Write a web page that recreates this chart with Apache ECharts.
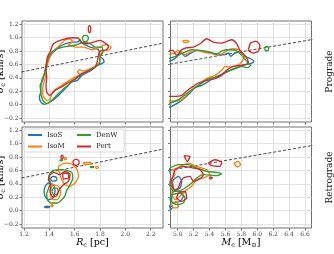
<!DOCTYPE html>
<html><head><meta charset="utf-8">
<script src="https://cdn.jsdelivr.net/npm/echarts@6/dist/echarts.min.js"></script>
<style>html,body{margin:0;padding:0;background:#fff}#c{width:334px;height:254px}</style>
</head><body><div id="c"></div>
<script>
const models = ['IsoS', 'IsoM', 'DenW', 'Pert'];
const colors = ['#1f77b4', '#ff7f0e', '#2ca02c', '#d62728'];
const rcTicks = [1.2, 1.4, 1.6, 1.8, 2.0, 2.2];
const mcTicks = [5.0, 5.2, 5.4, 5.6, 5.8, 6.0, 6.2, 6.4, 6.6];
const sigmaTicks = [-0.2, 0.0, 0.2, 0.4, 0.6, 0.8, 1.0, 1.2];
const rcLine = [[1.18, 0.487], [2.3, 0.92]];
const mcLine = [[4.9, 0.605], [6.7, 0.975]];

// Prograde, R_c panel
const proRcIsoS = [[[1.524,0.91],[1.577,0.935],[1.622,0.935],[1.643,0.969],[1.656,0.92],[1.722,0.86],[1.788,0.82],[1.80,0.711],[1.822,0.686],[1.832,0.636],[1.80,0.60],[1.769,0.586],[1.722,0.502],[1.656,0.437],[1.622,0.363],[1.577,0.338],[1.524,0.238],[1.458,0.114],[1.406,0.039],[1.358,0.004],[1.332,0.039],[1.321,0.114],[1.332,0.189],[1.327,0.288],[1.348,0.363],[1.366,0.512],[1.393,0.686],[1.432,0.786],[1.485,0.87]]];
const proRcIsoM = [[[1.506,0.934],[1.524,0.969],[1.564,0.98],[1.585,0.94],[1.55,0.90],[1.603,0.86],[1.669,0.86],[1.735,0.82],[1.80,0.86],[1.848,0.90],[1.888,0.86],[1.875,0.82],[1.827,0.80],[1.80,0.736],[1.796,0.636],[1.774,0.586],[1.722,0.537],[1.669,0.502],[1.638,0.522],[1.622,0.487],[1.643,0.452],[1.603,0.412],[1.55,0.353],[1.498,0.288],[1.445,0.223],[1.419,0.164],[1.406,0.074],[1.379,0.064],[1.348,0.139],[1.348,0.263],[1.366,0.387],[1.379,0.562],[1.40,0.686],[1.432,0.80],[1.471,0.87]]];
const proRcDenW = [[[1.458,0.835],[1.537,0.87],[1.616,0.895],[1.682,0.935],[1.722,0.91],[1.761,0.86],[1.814,0.86],[1.822,0.786],[1.80,0.711],[1.796,0.611],[1.761,0.562],[1.708,0.512],[1.643,0.437],[1.577,0.338],[1.511,0.238],[1.458,0.139],[1.419,0.064],[1.379,0.014],[1.348,0.064],[1.332,0.189],[1.34,0.363],[1.366,0.487],[1.374,0.611],[1.393,0.711],[1.419,0.786]],
  [[1.66,1.0],[1.672,1.03],[1.695,1.035],[1.708,1.0],[1.698,0.95],[1.672,0.94]]];
const proRcPert = [[[1.406,0.786],[1.432,0.91],[1.498,0.969],[1.577,0.999],[1.63,0.994],[1.648,0.935],[1.695,0.91],[1.748,0.935],[1.80,0.96],[1.84,0.92],[1.867,0.86],[1.848,0.82],[1.80,0.80],[1.788,0.736],[1.774,0.61],[1.761,0.56],[1.722,0.51],[1.656,0.462],[1.603,0.387],[1.537,0.313],[1.485,0.253],[1.445,0.213],[1.419,0.164],[1.40,0.139],[1.379,0.188],[1.374,0.288],[1.379,0.412],[1.374,0.512],[1.379,0.611],[1.384,0.711]],
  [[1.717,1.185],[1.726,1.16],[1.726,1.10],[1.717,1.075],[1.708,1.10],[1.708,1.16]]];

// Prograde, M_c panel
const proMcIsoS = [[[4.84,0.636],[4.924,0.661],[4.987,0.711],[5.037,0.786],[5.092,0.721],[5.154,0.761],[5.238,0.81],[5.364,0.786],[5.469,0.761],[5.573,0.746],[5.636,0.771],[5.666,0.721],[5.72,0.771],[5.783,0.786],[5.845,0.721],[5.917,0.686],[5.958,0.646],[5.908,0.611],[5.824,0.587],[5.741,0.552],[5.657,0.512],[5.573,0.462],[5.489,0.422],[5.406,0.363],[5.301,0.288],[5.217,0.253],[5.154,0.174],[5.092,0.104],[5.008,0.029],[4.924,-0.026],[4.84,-0.06]]];
const proMcIsoM = [[[4.84,0.751],[4.945,0.761],[5.008,0.81],[5.092,0.746],[5.154,0.786],[5.238,0.81],[5.322,0.786],[5.427,0.761],[5.51,0.736],[5.573,0.771],[5.636,0.82],[5.707,0.835],[5.783,0.81],[5.833,0.736],[5.816,0.661],[5.783,0.611],[5.699,0.572],[5.636,0.562],[5.594,0.572],[5.552,0.512],[5.468,0.437],[5.385,0.402],[5.301,0.338],[5.217,0.253],[5.154,0.203],[5.092,0.114],[5.029,0.064],[4.966,0.054],[4.84,0.054]],
  [[5.06,0.945],[5.08,0.96],[5.12,0.96],[5.14,0.945],[5.12,0.93],[5.08,0.93]]];
const proMcDenW = [[[4.84,0.671],[4.924,0.701],[5.008,0.736],[5.092,0.786],[5.175,0.82],[5.28,0.81],[5.406,0.786],[5.489,0.751],[5.552,0.80],[5.636,0.82],[5.732,0.81],[5.804,0.736],[5.858,0.661],[5.917,0.587],[5.875,0.552],[5.804,0.572],[5.72,0.537],[5.636,0.502],[5.573,0.472],[5.531,0.422],[5.448,0.402],[5.364,0.373],[5.28,0.303],[5.196,0.238],[5.113,0.164],[5.029,0.089],[4.945,0.039],[4.84,0.004]],
  [[6.09,0.835],[6.105,0.865],[6.13,0.865],[6.145,0.835],[6.13,0.805],[6.105,0.805]]];
const proMcPert = [[[4.84,0.81],[4.937,0.81],[4.987,0.736],[5.05,0.82],[5.113,0.85],[5.196,0.86],[5.28,0.91],[5.364,0.984],[5.448,0.935],[5.552,0.92],[5.678,0.969],[5.741,0.91],[5.783,0.81],[5.845,0.736],[5.887,0.636],[5.858,0.60],[5.783,0.586],[5.678,0.562],[5.615,0.512],[5.552,0.437],[5.468,0.388],[5.364,0.363],[5.259,0.323],[5.196,0.273],[5.133,0.223],[5.05,0.139],[4.945,0.124],[4.84,0.124]],
  [[5.887,0.82],[5.917,0.92],[5.984,0.95],[6.034,0.885],[6.013,0.80],[5.95,0.77],[5.9,0.80]]];

// Retrograde, R_c panel
const retRcIsoS = [[[1.366,0.363],[1.392,0.413],[1.432,0.388],[1.445,0.289],[1.427,0.189],[1.392,0.164],[1.366,0.214],[1.358,0.289]],
  [[1.41,0.49],[1.43,0.51],[1.455,0.5],[1.46,0.46],[1.44,0.44],[1.415,0.45]],
  [[1.36,0.055],[1.38,0.065],[1.40,0.06],[1.40,0.048],[1.38,0.044],[1.36,0.05]]];
const retRcIsoM = [[[1.471,0.662],[1.524,0.711],[1.577,0.697],[1.616,0.622],[1.63,0.512],[1.603,0.413],[1.564,0.363],[1.524,0.388],[1.498,0.463],[1.479,0.562]],
  [[1.427,0.388],[1.471,0.363],[1.49,0.264],[1.464,0.164],[1.419,0.174],[1.406,0.274]],
  [[1.41,0.075],[1.419,0.09],[1.43,0.08],[1.425,0.062],[1.412,0.062]],
  [[1.665,0.706],[1.68,0.72],[1.72,0.72],[1.735,0.706],[1.72,0.692],[1.68,0.692]],
  [[1.764,0.647],[1.77,0.662],[1.782,0.662],[1.787,0.647],[1.78,0.632],[1.768,0.632]],
  [[1.515,0.77],[1.52,0.795],[1.532,0.79],[1.535,0.77],[1.525,0.76]]];
const retRcDenW = [[[1.406,0.562],[1.432,0.602],[1.485,0.612],[1.537,0.602],[1.577,0.572],[1.585,0.488],[1.564,0.388],[1.537,0.303],[1.524,0.224],[1.498,0.164],[1.458,0.114],[1.411,0.114],[1.384,0.164],[1.379,0.254],[1.395,0.338],[1.406,0.438],[1.395,0.512]],
  [[1.42,0.29],[1.435,0.34],[1.46,0.335],[1.47,0.29],[1.455,0.24],[1.43,0.245]],
  [[1.48,0.75],[1.49,0.758],[1.505,0.752],[1.49,0.744]],
  [[1.72,0.652],[1.735,0.66],[1.752,0.652],[1.735,0.644]]];
const retRcPert = [[[1.406,0.537],[1.437,0.572],[1.479,0.537],[1.524,0.587],[1.564,0.537],[1.55,0.438],[1.511,0.388],[1.479,0.313],[1.458,0.224],[1.427,0.204],[1.406,0.289],[1.411,0.388],[1.392,0.463]],
  [[1.506,0.562],[1.55,0.552],[1.553,0.488],[1.511,0.473]],
  [[1.611,0.77],[1.634,0.745],[1.634,0.695],[1.611,0.675],[1.588,0.695],[1.588,0.745]],
  [[1.50,0.83],[1.508,0.81],[1.508,0.785],[1.50,0.77],[1.492,0.785],[1.492,0.81]]];

// Retrograde, M_c panel
const retMcIsoS = [[[4.945,0.463],[5.008,0.512],[5.05,0.438],[5.029,0.338],[4.966,0.313],[4.924,0.363]],
  [[4.945,0.289],[5.029,0.289],[5.071,0.214],[5.029,0.139],[4.945,0.114],[4.903,0.164]],
  [[4.895,0.075],[4.937,0.055],[4.912,0.015]]];
const retMcIsoM = [[[4.945,0.612],[5.029,0.662],[5.134,0.711],[5.238,0.662],[5.364,0.612],[5.406,0.537],[5.322,0.488],[5.238,0.463],[5.175,0.363],[5.113,0.313],[5.029,0.214],[4.966,0.164],[4.924,0.264],[4.945,0.363],[4.924,0.463],[4.966,0.537]],
  [[4.924,0.114],[4.987,0.139],[5.008,0.055],[4.945,0.040]],
  [[5.707,0.711],[5.762,0.736],[5.791,0.687],[5.749,0.652]]];
const retMcDenW = [[[4.903,0.637],[5.008,0.687],[5.134,0.687],[5.238,0.637],[5.364,0.587],[5.489,0.572],[5.552,0.552],[5.489,0.522],[5.322,0.537],[5.238,0.488],[5.175,0.413],[5.092,0.338],[5.008,0.289],[4.945,0.289],[4.903,0.363],[4.882,0.512]],
  [[4.924,0.239],[5.029,0.264],[5.092,0.189],[5.071,0.114],[4.987,0.09],[4.924,0.139]]];
const retMcPert = [[[4.966,0.612],[5.071,0.662],[5.196,0.637],[5.28,0.612],[5.322,0.537],[5.259,0.463],[5.196,0.438],[5.155,0.512],[5.071,0.488],[5.029,0.413],[5.008,0.338],[4.966,0.303],[4.937,0.363],[4.924,0.463],[4.945,0.537]],
  [[5.008,0.264],[5.092,0.289],[5.113,0.189],[5.05,0.139],[4.987,0.189]],
  [[5.079,0.821],[5.155,0.811],[5.121,0.736]],
  [[5.385,0.711],[5.468,0.761],[5.552,0.721],[5.531,0.662],[5.427,0.672]],
  [[5.395,0.488],[5.415,0.503],[5.435,0.488],[5.415,0.473]]];

const panels = [
  [proRcIsoS, proRcIsoM, proRcDenW, proRcPert],
  [proMcIsoS, proMcIsoM, proMcDenW, proMcPert],
  [retRcIsoS, retRcIsoM, retRcDenW, retRcPert],
  [retMcIsoS, retMcIsoM, retMcDenW, retMcPert]
];
const refLines = [rcLine, mcLine, rcLine, mcLine];

const FONT = 'DejaVu Serif';
const grids = [
  {left: 22, top: 21, width: 141, height: 101},
  {left: 170.5, top: 21, width: 141, height: 101},
  {left: 22, top: 127, width: 141, height: 101},
  {left: 170.5, top: 127, width: 141, height: 101}
].map(g => Object.assign(g, {show: true, borderColor: '#707070', borderWidth: 1, backgroundColor: '#fff'}));

const fmt = v => (v < 0 ? '\u2212' + Math.abs(v).toFixed(1) : v.toFixed(1));
const xRange = [[1.184, 2.297], [4.909, 6.682]];

const xAxis = [0, 1, 2, 3].map(i => {
  const ticks = i % 2 === 0 ? rcTicks : mcTicks;
  return {
    gridIndex: i, type: 'value', min: xRange[i % 2][0], max: xRange[i % 2][1],
    axisLine: {show: false, onZero: false},
    axisTick: {show: true, length: 2.5, lineStyle: {color: '#555', width: 0.8}, customValues: ticks},
    axisLabel: {show: i >= 2, customValues: ticks, formatter: fmt, fontSize: 6, color: '#444', fontFamily: FONT, margin: 3.5},
    splitLine: {show: true, lineStyle: {color: '#dcdcdc', width: 0.8}}
  };
});
const yAxis = [0, 1, 2, 3].map(i => ({
  gridIndex: i, type: 'value', min: -0.26, max: 1.25,
  axisLine: {show: false, onZero: false},
  axisTick: {show: true, length: 2.5, lineStyle: {color: '#555', width: 0.8}, customValues: sigmaTicks},
  axisLabel: {show: i % 2 === 0, customValues: sigmaTicks, formatter: fmt, fontSize: 6, color: '#444', fontFamily: FONT, margin: 3.5},
  splitLine: {show: true, lineStyle: {color: '#dcdcdc', width: 0.8}}
}));

const series = [];
panels.forEach((panel, p) => {
  series.push({
    type: 'line', name: 'ref', xAxisIndex: p, yAxisIndex: p, data: refLines[p],
    symbol: 'none', silent: true, z: 3,
    lineStyle: {color: '#333', width: 0.9, type: [3, 2]}
  });
  panel.forEach((loops, m) => {
    loops.forEach(loop => {
      series.push({
        type: 'line', name: models[m], xAxisIndex: p, yAxisIndex: p,
        data: loop.concat([loop[0]]), symbol: 'none', smooth: 0.2, silent: true, z: 4 + m,
        lineStyle: {color: colors[m], width: 1.35}, itemStyle: {color: colors[m]}
      });
    });
  });
});

const legendBase = {
  orient: 'vertical', top: 131, padding: 0, icon: 'rect', itemWidth: 14, itemHeight: 2, itemGap: 3.5, z: 20,
  textStyle: {fontSize: 7, fontFamily: FONT, color: '#222', lineHeight: 8},
  selectedMode: false
};

const titleRich = {
  i: {fontStyle: 'italic', fontSize: 9.5, fontFamily: FONT, color: '#222'},
  s: {fontSize: 6.5, fontFamily: FONT, color: '#222', padding: [5, 0, 0, 0]},
  n: {fontSize: 9.5, fontFamily: FONT, color: '#222'}
};

const option = {
  animation: false,
  color: colors,
  grid: grids,
  xAxis: xAxis,
  yAxis: yAxis,
  legend: [
    Object.assign({}, legendBase, {left: 28, data: ['IsoS', 'IsoM']}),
    Object.assign({}, legendBase, {left: 77, data: ['DenW', 'Pert']})
  ],
  graphic: [
    {type: 'rect', z: 15, shape: {x: 24, y: 129, width: 100, height: 23, r: 2}, style: {fill: 'rgba(255,255,255,0.85)', stroke: '#d0d0d0', lineWidth: 0.8}},
    {type: 'text', x: 92.5, y: 243, style: {text: '{i|R}{s|c}{n| [pc]}', rich: titleRich, align: 'center', verticalAlign: 'middle'}},
    {type: 'text', x: 241, y: 243, style: {text: '{i|M}{s|c}{n| [M}{s|\u2299}{n|]}', rich: titleRich, align: 'center', verticalAlign: 'middle'}},
    {type: 'text', x: 1, y: 71.5, rotation: Math.PI / 2, style: {text: '{i|\u03c3}{s|c}{n| [km/s]}', rich: titleRich, align: 'center', verticalAlign: 'middle'}},
    {type: 'text', x: 1, y: 177.5, rotation: Math.PI / 2, style: {text: '{i|\u03c3}{s|c}{n| [km/s]}', rich: titleRich, align: 'center', verticalAlign: 'middle'}},
    {type: 'text', x: 330, y: 71.5, rotation: Math.PI / 2, style: {text: 'Prograde', font: '9px "DejaVu Serif"', fill: '#222', align: 'center', verticalAlign: 'middle'}},
    {type: 'text', x: 330, y: 177.5, rotation: Math.PI / 2, style: {text: 'Retrograde', font: '9px "DejaVu Serif"', fill: '#222', align: 'center', verticalAlign: 'middle'}}
  ],
  series: series
};

const chart = echarts.init(document.getElementById('c'), null, {renderer: 'canvas'});
chart.setOption(option);
</script>
</body></html>
